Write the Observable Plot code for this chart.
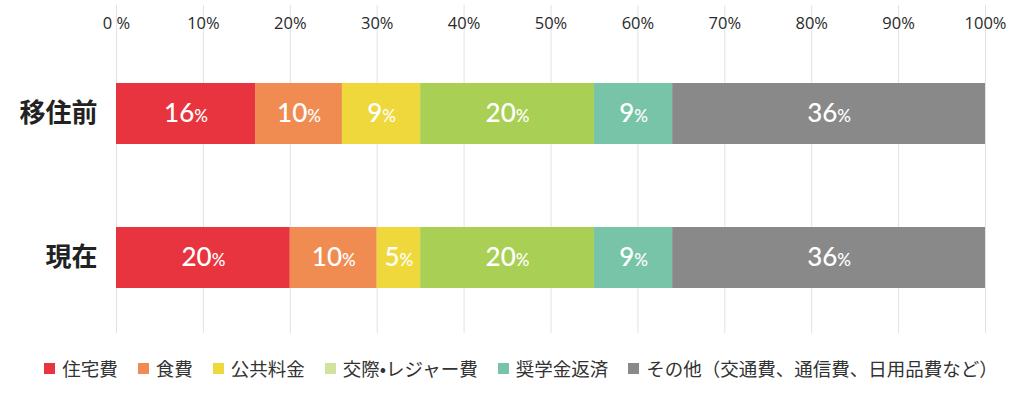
<!DOCTYPE html>
<html>
<head>
<meta charset="utf-8">
<script src="https://cdn.jsdelivr.net/npm/d3@7"></script>
<script src="https://cdn.jsdelivr.net/npm/@observablehq/plot@0.6"></script>
<style>
  html, body { margin: 0; padding: 0; background: #fff; }
  #chart { width: 1024px; }
  .legend { display: flex; justify-content: center; align-items: center; margin-top: 17px; height: 22px; padding-left: 18px;
    font-family: "Noto Sans CJK JP", "Noto Sans", sans-serif; font-size: 18.5px; color: #333; }
  .legend .item { display: flex; align-items: center; margin: 0 10px; white-space: nowrap; }
  .legend .sw { width: 11px; height: 11px; margin-right: 7px; }
</style>
</head>
<body>
<div id="chart"></div>
<script>
const categories = ["住宅費", "食費", "公共料金", "交際•レジャー費", "奨学金返済", "その他（交通費、通信費、日用品費など）"];
const periods = ["移住前", "現在"];
const beforeValues = [16, 10, 9, 20, 9, 36];
const nowValues = [20, 10, 5, 20, 9, 36];
const tickValues = [0, 10, 20, 30, 40, 50, 60, 70, 80, 90, 100];
const tickLabels = ["0 %", "10%", "20%", "30%", "40%", "50%", "60%", "70%", "80%", "90%", "100%"];
const barColors = ["#e8343e", "#f08c52", "#eed83c", "#a9cf55", "#77c4a8", "#898989"];
const legendColors = ["#e8343e", "#f08c52", "#eed83c", "#d0e4a0", "#77c4a8", "#898989"];

const data = [];
periods.forEach((p, pi) => {
  const vals = pi === 0 ? beforeValues : nowValues;
  categories.forEach((c, ci) => data.push({period: p, category: c, value: vals[ci]}));
});

const chart = Plot.plot({
  width: 1024,
  height: 340,
  marginTop: 5,
  marginBottom: 7,
  marginLeft: 116,
  marginRight: 39,
  x: {domain: [0, 100], label: null},
  y: {domain: periods, range: [53, 317], paddingInner: 0.5793, paddingOuter: 0.2, label: null},
  color: {domain: categories, range: barColors},
  style: {fontFamily: "'Open Sans', sans-serif"},
  marks: [
    Plot.ruleX(tickValues, {stroke: "#e2e2e2", strokeWidth: 1}),
    Plot.barX(data, Plot.stackX({x: "value", y: "period", fill: "category"})),
    Plot.text(data, Plot.stackX({
      x: "value", y: "period", text: d => String(d.value),
      fill: "#fff", fontSize: 26, fontFamily: "Lato, sans-serif", fontWeight: 500,
      render(index, scales, values, dims, ctx, next) {
        const g = next(index, scales, values, dims, ctx);
        g.querySelectorAll("text").forEach(t => {
          const ts = document.createElementNS("http://www.w3.org/2000/svg", "tspan");
          ts.setAttribute("font-size", "17");
          ts.textContent = "%";
          t.appendChild(ts);
        });
        return g;
      }
    })),
    Plot.axisX(tickValues, {anchor: "top", tickSize: 0, tickFormat: (d, i) => tickLabels[i], dy: 32, fontSize: 16.5, fill: "#2a2a2a", label: null}),
    Plot.axisY({tickSize: 0, tickPadding: 19, fontSize: 26, fontWeight: "bold", fill: "#222",
      fontFamily: "'Noto Sans CJK JP', sans-serif", label: null})
  ]
});
document.getElementById("chart").appendChild(chart);

const legend = document.createElement("div");
legend.className = "legend";
categories.forEach((c, i) => {
  const item = document.createElement("div");
  item.className = "item";
  const sw = document.createElement("span");
  sw.className = "sw";
  sw.style.background = legendColors[i];
  const label = document.createElement("span");
  label.textContent = c;
  item.appendChild(sw);
  item.appendChild(label);
  legend.appendChild(item);
});
document.getElementById("chart").appendChild(legend);
</script>
</body>
</html>
